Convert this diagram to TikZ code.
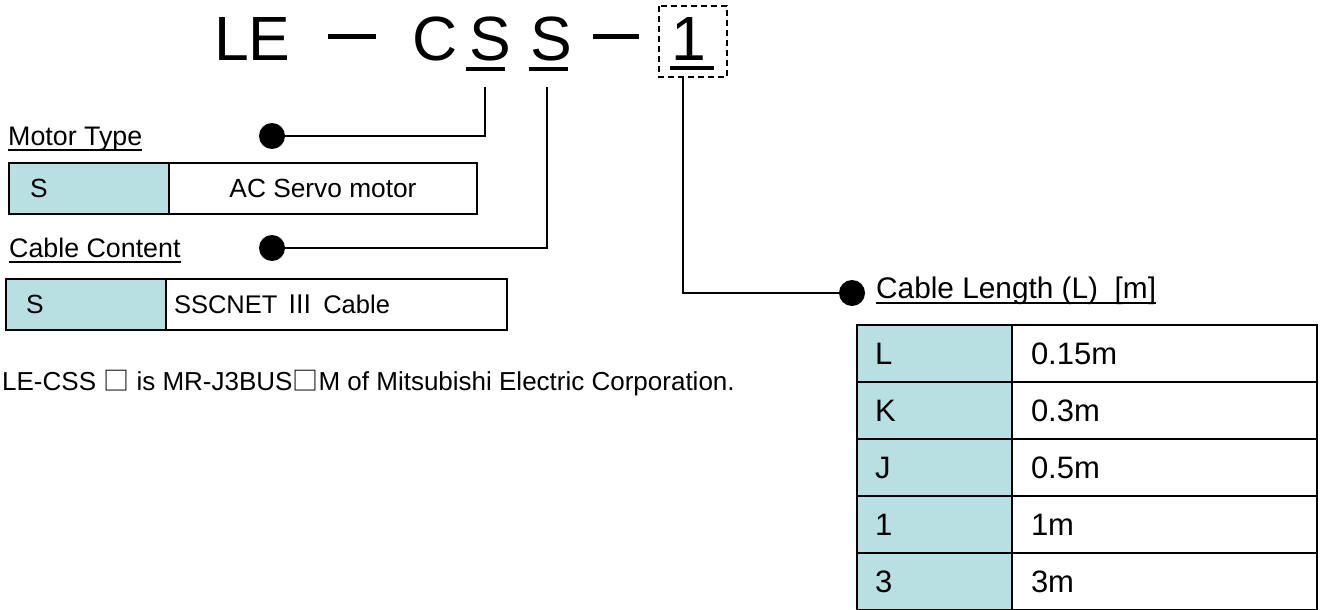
\documentclass[tikz,border=0pt]{standalone}
\usepackage{fontspec}
\setmainfont{Liberation Sans}
\newfontfamily\cjk{Noto Sans CJK JP}
\usepackage{xcolor}
\usepackage{tikz}
\usetikzlibrary{calc}

\definecolor{cellteal}{RGB}{184,223,226}
\newcommand{\fs}[1]{\fontsize{#1}{#1}\selectfont}
\newsavebox\ulbox
\newcommand{\ulined}[1]{\sbox\ulbox{#1}\rlap{\rule[-6pt]{\wd\ulbox}{2pt}}\usebox\ulbox}

\tikzset{
  codechar/.style={anchor=base west, inner sep=0pt, font=\fs{62.5}},
  lbl/.style={anchor=base west, inner sep=0pt, font=\fs{26.8}},
  keycell/.style={draw=black, line width=1.5pt, fill=cellteal, anchor=north west,
    outer sep=0pt, inner ysep=0pt, align=left, text depth=0pt},
  valcell/.style={draw=black, line width=1.5pt, fill=white, anchor=north west,
    outer sep=0pt, inner ysep=0pt, text depth=0pt},
  bullet/.style={circle, fill=black, inner sep=0pt, minimum size=26pt},
  conn/.style={line width=2pt},
  ubar/.style={line width=4pt},
}

\begin{document}
\begin{tikzpicture}[x=1pt,y=-1pt]
  \useasboundingbox (0,0) rectangle (1323,610);

  % model code
  \node[codechar] (tLE) at (214,60) {LE};
  \draw[line width=5pt] (328,37) -- (376,37);
  \node[codechar] (tC) at (412,60) {C};
  \node[codechar] (tS1) at (469,60) {S};
  \node[codechar] (tS2) at (530,60) {S};
  \draw[line width=5pt] (593,37) -- (639,37);
  \node[codechar] (tOne) at (671,60) {1};
  \draw[ubar] (466,69) -- (505,69);
  \draw[ubar] (529,69) -- (568,69);
  \draw[ubar] (670,68) -- (714,68);
  \draw[line width=1.5pt, dash pattern=on 6pt off 4pt] (659,6) rectangle (727,77);

  \coordinate (mtend) at (485,87);
  \coordinate (ccend) at (547,87);
  \coordinate (clend) at (683,77);

  % motor type
  \node[lbl] (mtlbl) at (8,145) {\ulined{Motor Type}};
  \node[bullet] (mtdot) at (272,136) {};
  \draw[conn] (mtdot.center) -| (mtend);
  \node[keycell, minimum width=160pt, minimum height=51pt, text width=118pt,
    inner xsep=21pt, text height=18.6pt, font=\fs{26.3}] (mtkey) at (9,163) {S};
  \node[valcell, minimum width=308pt, minimum height=51pt, text height=18.6pt,
    font=\fs{26.3}] (mtval) at (mtkey.north east) {AC Servo motor};

  % cable content
  \node[lbl] (cclbl) at (9,257) {\ulined{Cable Content}};
  \node[bullet] (ccdot) at (272,248) {};
  \draw[conn] (ccdot.center) -| (ccend);
  \node[keycell, minimum width=160pt, minimum height=51pt, text width=120pt,
    inner xsep=20pt, text height=18.6pt, font=\fs{26.3}] (cckey) at (6,279) {S};
  \node[valcell, minimum width=341pt, minimum height=51pt, text width=325pt,
    inner xsep=8pt, align=left, text height=18pt, font=\fs{25.5}] (ccval)
    at (cckey.north east) {SSCNET\makebox[1.8em]{\cjk Ⅲ}Cable};

  \node[lbl, font=\fs{26}] (note) at (2,390)
    {LE-CSS {\cjk □} is MR-J3BUS{\cjk □}M of Mitsubishi Electric Corporation.};

  % cable length
  \node[bullet] (cldot) at (852,293) {};
  \draw[conn] (cldot.center) -| (clend);
  \node[lbl, font=\fs{29.8}] (cllbl) at (876,298) {\ulined{Cable Length (L)\ \ [m]}};
  \foreach \k/\v [count=\i from 0] in {L/0.15m, K/0.3m, J/0.5m, 1/1m, 3/3m} {
    \node[keycell, line width=2.2pt, minimum width=155pt, minimum height=57pt,
      text width=119pt, inner xsep=18pt, text height=22.2pt, font=\fs{31}]
      (len\i) at (857,325+57*\i) {\k};
    \node[valcell, line width=2.2pt, minimum width=305pt, minimum height=57pt,
      text width=267pt, inner xsep=19pt, align=left, text height=22.2pt,
      font=\fs{31}] (val\i) at (len\i.north east) {\v};
  }
\end{tikzpicture}
\end{document}
